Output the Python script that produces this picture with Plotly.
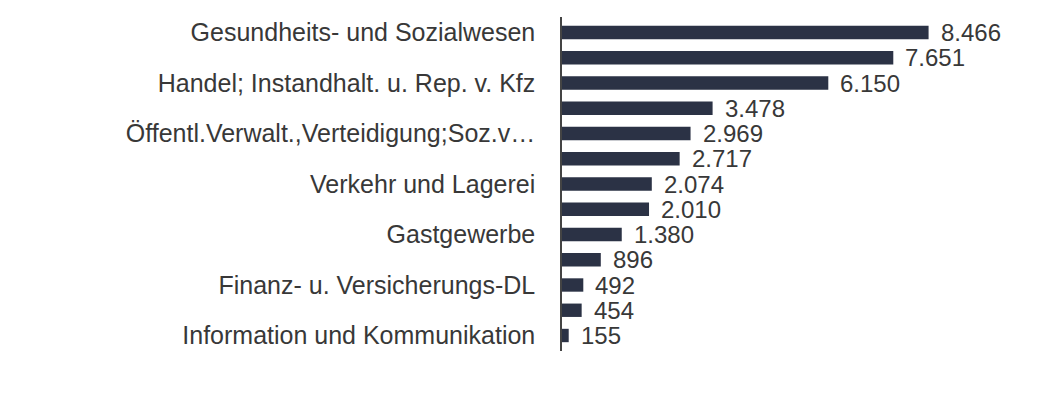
import plotly.graph_objects as go

categories = [
    "Gesundheits- und Sozialwesen",
    "Verarbeitendes Gewerbe",
    "Handel; Instandhalt. u. Rep. v. Kfz",
    "Erziehung und Unterricht",
    "Öffentl.Verwalt.,Verteidigung;Soz.v…",
    "Freiberufl., wissenschaftl. u. techn. DL",
    "Verkehr und Lagerei",
    "Sonstige wirtschaftliche DL",
    "Gastgewerbe",
    "Baugewerbe",
    "Finanz- u. Versicherungs-DL",
    "Sonstige Dienstleistungen",
    "Information und Kommunikation",
]
values = [8466, 7651, 6150, 3478, 2969, 2717, 2074, 2010, 1380, 896, 492, 454, 155]
shown_labels = categories[::2]

value_texts = [f"{v:,}".replace(",", ".") for v in values]

BAR_COLOR = "#2b3245"
TEXT_COLOR = "#383838"
FONT = "Liberation Sans, Arial, sans-serif"

fig = go.Figure(
    go.Bar(
        x=values,
        y=categories,
        orientation="h",
        marker=dict(color=BAR_COLOR, line=dict(width=0)),
        hoverinfo="x+y",
    )
)

for cat, v, t in zip(categories, values, value_texts):
    fig.add_annotation(
        x=v, y=cat, text=t, showarrow=False,
        xanchor="left", yanchor="middle", xshift=10,
        font=dict(family=FONT, size=24, color=TEXT_COLOR),
    )

fig.update_layout(
    width=1042, height=397,
    margin=dict(l=554, r=55, t=9, b=54, autoexpand=False),
    paper_bgcolor="white", plot_bgcolor="white",
    bargap=0.47,
    showlegend=False,
    font=dict(family=FONT, size=24, color=TEXT_COLOR),
)
fig.update_xaxes(
    range=[0, 10000], visible=False, showgrid=False, zeroline=False,
)
fig.update_yaxes(
    type="category",
    categoryorder="array", categoryarray=categories,
    autorange="reversed",
    tickmode="array", tickvals=shown_labels, ticktext=shown_labels,
    showline=True, linecolor="#444444", linewidth=1.5,
    ticks="", ticklabelstandoff=20,
    showgrid=False, zeroline=False,
    tickfont=dict(family=FONT, size=25, color=TEXT_COLOR),
)

fig.write_html("out.html")
